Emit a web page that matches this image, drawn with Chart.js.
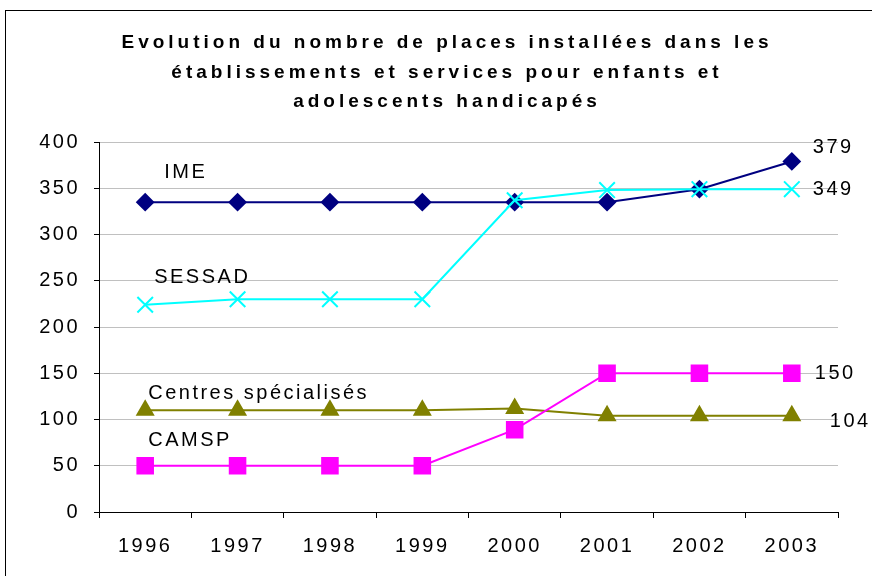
<!DOCTYPE html>
<html>
<head>
<meta charset="utf-8">
<script src="https://cdn.jsdelivr.net/npm/chart.js@4"></script>
<style>
  html, body { margin: 0; padding: 0; background: #fff; }
  #wrap { width: 872px; height: 576px; position: relative; }
</style>
</head>
<body>
<div id="wrap"><canvas id="lineChart"></canvas></div>
<script>
const years = ['1996', '1997', '1998', '1999', '2000', '2001', '2002', '2003'];
const ime = [335, 335, 335, 335, 335, 335, 349, 379];
const sessad = [224, 230, 230, 230, 337, 348, 349, 349];
const centres = [110, 110, 110, 110, 112, 104, 104, 104];
const camsp = [50, 50, 50, 50, 89, 150, 150, 150];
const yTicks = [0, 50, 100, 150, 200, 250, 300, 350, 400];
const titleLines = ['Evolution du nombre de places installées dans les',
                    'établissements et services pour enfants et',
                    'adolescents handicapés'];

const FONT = '"Liberation Sans", Arial, sans-serif';
const SPACING = '2.5px';

// series names written inside the plot, like in the original
const seriesNotes = [
    { text: 'IME', idx: 0, val: 367, dx: 19 },
    { text: 'SESSAD', idx: 0, val: 253, dx: 9 },
    { text: 'Centres spécialisés', idx: 0, val: 128, dx: 3 },
    { text: 'CAMSP', idx: 0, val: 77, dx: 3 }
];

const textPlugin = {
    id: 'textPlugin',
    beforeLayout(chart) { chart.ctx.letterSpacing = SPACING; },
    beforeDraw(chart) {
        const ctx = chart.ctx;
        ctx.save();
        ctx.fillStyle = '#fff';
        ctx.fillRect(0, 0, chart.width, chart.height);
        ctx.strokeStyle = '#000';
        ctx.lineWidth = 1;
        ctx.strokeRect(5.5, 10.5, 900, 700);
        ctx.restore();
        ctx.letterSpacing = SPACING;
    },
    afterDatasetsDraw(chart) {
        const ctx = chart.ctx;
        const x = chart.scales.x, y = chart.scales.y;
        ctx.save();
        ctx.font = '20px ' + FONT;
        ctx.fillStyle = '#000';
        ctx.textBaseline = 'middle';
        ctx.textAlign = 'left';
        ctx.letterSpacing = SPACING;
        seriesNotes.forEach(n => {
            ctx.fillText(n.text, x.getPixelForValue(n.idx) + n.dx, y.getPixelForValue(n.val));
        });
        // last values at the right end of the lines
        const last = years.length - 1;
        const ends = [
            { v: ime[last], dy: -14, dx: 21 },
            { v: sessad[last], dy: 0, dx: 21 },
            { v: camsp[last], dy: 0, dx: 23 },
            { v: centres[last], dy: 6, dx: 38 }
        ];
        ends.forEach(e => {
            ctx.fillText(String(e.v), x.getPixelForValue(last) + e.dx, y.getPixelForValue(e.v) + e.dy);
        });

        // title
        ctx.font = 'bold 19px ' + FONT;
        ctx.letterSpacing = '4px';
        ctx.textAlign = 'center';
        titleLines.forEach((t, i) => {
            ctx.fillText(t, 447, 43 + i * 29.5);
        });
        ctx.restore();
    }
};

const data = {
    labels: years,
    datasets: [
        {
            label: 'SESSAD', data: sessad, borderColor: '#00FFFF', backgroundColor: '#00FFFF',
            borderWidth: 2, pointStyle: 'crossRot', pointRadius: 11, pointBorderWidth: 2, order: 1
        },
        {
            label: 'IME', data: ime, borderColor: '#000080', backgroundColor: '#000080',
            borderWidth: 2, pointStyle: 'rectRot', pointRadius: 8, order: 2
        },
        {
            label: 'CAMSP', data: camsp, borderColor: '#FF00FF', backgroundColor: '#FF00FF',
            borderWidth: 2, pointStyle: 'rect', pointRadius: 11, order: 3
        },
        {
            label: 'Centres spécialisés', data: centres, borderColor: '#808000', backgroundColor: '#808000',
            borderWidth: 2, pointStyle: 'triangle', pointRadius: 9, order: 4
        }
    ]
};

const config = {
    type: 'line',
    data: data,
    plugins: [textPlugin],
    options: {
        responsive: false,
        animation: false,
        devicePixelRatio: 1,
        layout: { padding: { left: 0, right: 34, top: 142, bottom: 2 } },
        plugins: {
            legend: { display: false },
            tooltip: { enabled: false },
            title: { display: false }
        },
        scales: {
            x: {
                offset: true,
                grid: { display: true, drawOnChartArea: false, offset: true, tickLength: 6, tickColor: '#000' },
                border: { color: '#000', width: 1 },
                ticks: { color: '#000', font: { family: FONT, size: 20 }, padding: 16, maxRotation: 0 }
            },
            y: {
                min: 0, max: 400,
                afterBuildTicks(scale) { scale.ticks = yTicks.map(v => ({ value: v })); },
                afterFit(scale) { scale.width = 99; },
                grid: { color: '#c0c0c0', tickLength: 5, tickColor: '#000' },
                border: { color: '#000', width: 1 },
                ticks: { color: '#000', font: { family: FONT, size: 20 }, padding: 14 }
            }
        }
    }
};

const canvas = document.getElementById('lineChart');
canvas.width = 872;
canvas.height = 576;
window.myLineInstance = new Chart(canvas, config);
</script>
</body>
</html>
